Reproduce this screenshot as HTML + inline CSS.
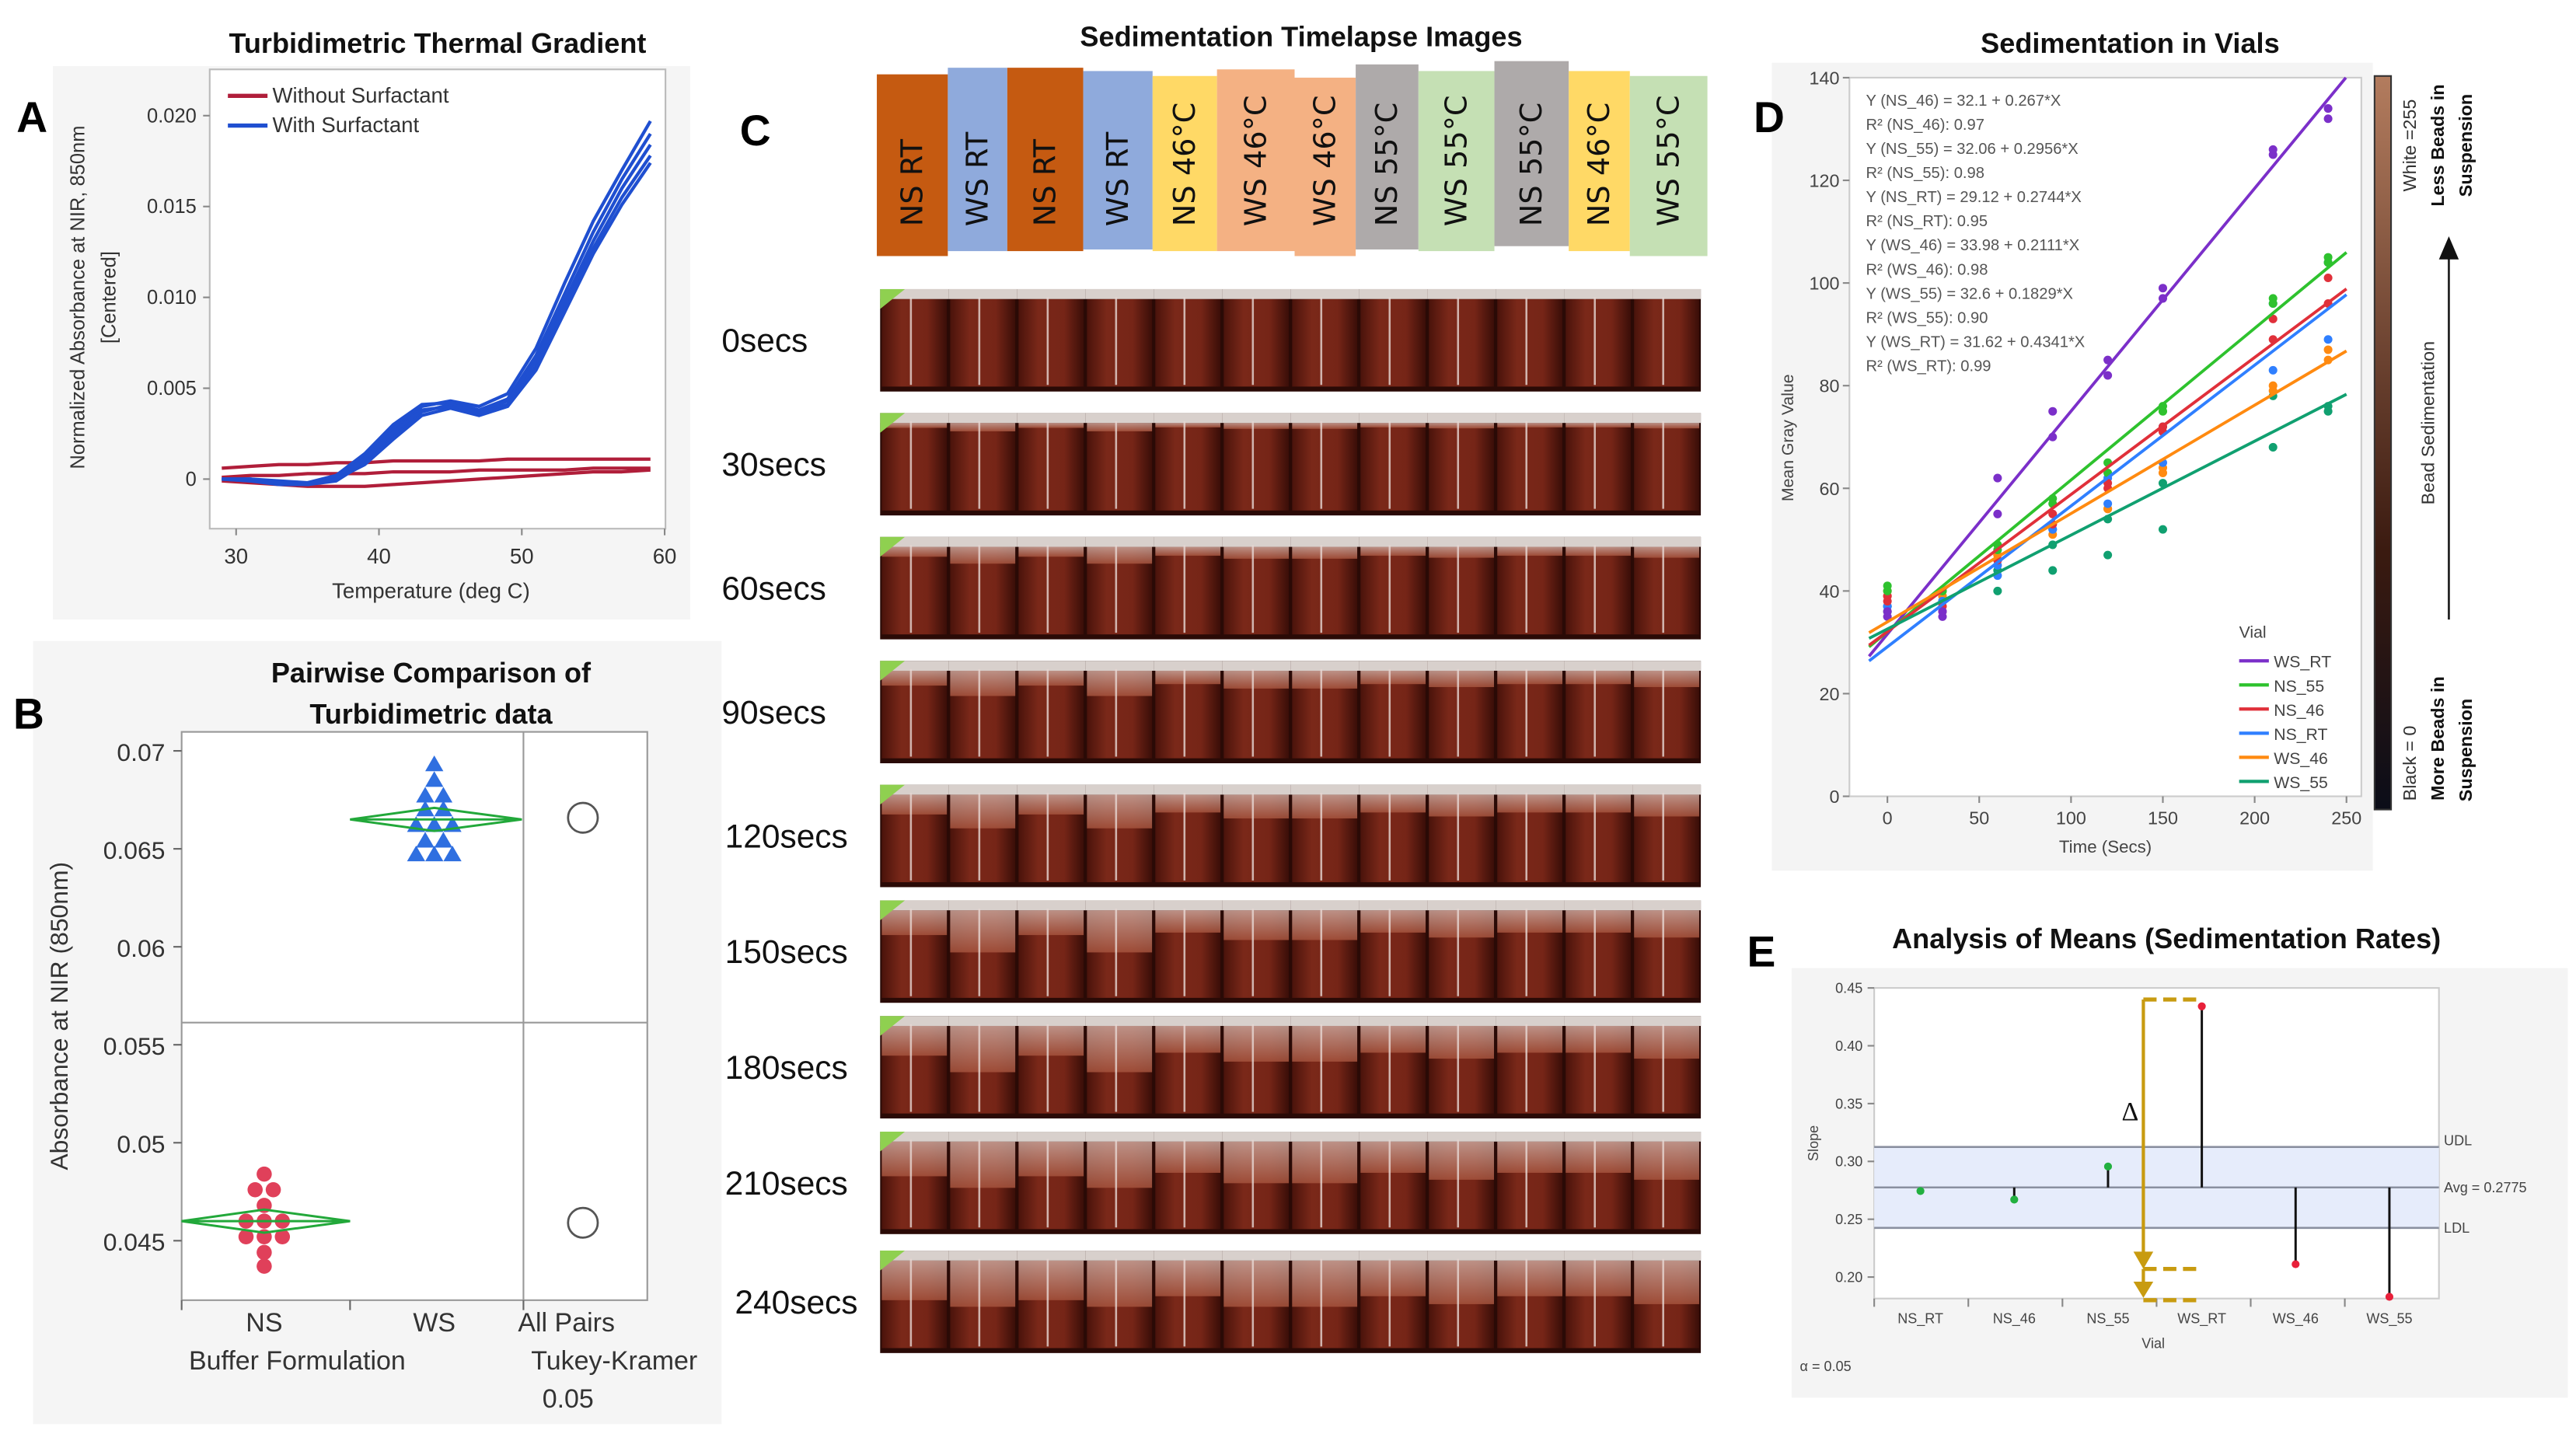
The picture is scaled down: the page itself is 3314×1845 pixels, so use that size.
<!DOCTYPE html>
<html><head><meta charset="utf-8">
<style>
html,body{margin:0;padding:0;background:#fff;}
svg{display:block;font-family:"Liberation Sans",Arial,sans-serif;}
</style></head>
<body>
<svg id="root" width="3314" height="1845" viewBox="0 0 1560 868" preserveAspectRatio="none" xmlns="http://www.w3.org/2000/svg">
<defs>
<linearGradient id="cbar" x1="0" y1="1" x2="0" y2="0"><stop offset="0" stop-color="#0b0d18"/><stop offset="0.35" stop-color="#3a1a10"/><stop offset="1" stop-color="#b37c5e"/></linearGradient>
<linearGradient id="vialG" x1="0" y1="0" x2="1" y2="0"><stop offset="0" stop-color="#4a130b"/><stop offset="0.3" stop-color="#7a2819"/><stop offset="0.7" stop-color="#762517"/><stop offset="1" stop-color="#3a0e08"/></linearGradient>
<linearGradient id="clearG" x1="0" y1="0" x2="0" y2="1"><stop offset="0" stop-color="#c9a49a"/><stop offset="1" stop-color="#a4523c"/></linearGradient>
</defs>
<g id="panelA"></g>
<g id="panelB"></g>
<g id="panelC"></g>
<g id="panelD"></g>
<g id="panelE"></g>
</svg>
<script>
// ---------- Panel A data ----------
const aTemps = [29,31,33,35,37,39,41,43,45,47,49,51,53,55,57,59];
const aBlue1 = [0,0,-0.0002,-0.0003,0,0.0012,0.0028,0.0040,0.0043,0.0040,0.0047,0.0072,0.0108,0.0142,0.0170,0.0197];
const aBlue2 = [0,0,-0.0002,-0.0002,0.0002,0.0014,0.0030,0.0041,0.0042,0.0038,0.0044,0.0068,0.0102,0.0136,0.0165,0.0190];
const aBlue3 = [0,-0.0001,-0.0003,-0.0003,-0.0001,0.0009,0.0024,0.0037,0.0041,0.0037,0.0043,0.0065,0.0098,0.0131,0.0160,0.0184];
const aBlue4 = [0,0,-0.0001,-0.0002,0.0001,0.0011,0.0026,0.0038,0.0040,0.0036,0.0041,0.0062,0.0095,0.0127,0.0155,0.0178];
const aBlue5 = [0,-0.0001,-0.0002,-0.0003,0,0.0008,0.0022,0.0035,0.0039,0.0035,0.0040,0.0060,0.0092,0.0124,0.0151,0.0174];
const aRed1 = [0.0006,0.0007,0.0008,0.0008,0.0009,0.0009,0.0010,0.0010,0.0010,0.0010,0.0011,0.0011,0.0011,0.0011,0.0011,0.0011];
const aRed2 = [0.0001,0.0002,0.0002,0.0003,0.0003,0.0003,0.0004,0.0004,0.0004,0.0005,0.0005,0.0005,0.0005,0.0006,0.0006,0.0006];
const aRed3 = [-0.0001,-0.0002,-0.0003,-0.0004,-0.0004,-0.0004,-0.0003,-0.0002,-0.0001,0,0.0001,0.0002,0.0003,0.0004,0.0004,0.0005];
const aYTicks = [0,0.005,0.010,0.015,0.020];
const aYLabels = ["0","0.005","0.010","0.015","0.020"];
const aXTicks = [30,40,50,60];
// ---------- Panel B data ----------
const bNS = [0.0484,0.0476,0.0476,0.0468,0.0460,0.0460,0.0460,0.0452,0.0452,0.0452,0.0444,0.0437];
const bWS = [0.0693,0.0685,0.0677,0.0677,0.0670,0.0670,0.0662,0.0662,0.0662,0.0654,0.0654,0.0647,0.0647,0.0647];
const bNSMean = 0.0460, bWSMean = 0.0665;
const bYTicks = [0.045,0.05,0.055,0.06,0.065,0.07];
const bYLabels = ["0.045","0.05","0.055","0.06","0.065","0.07"];
// ---------- Panel C data ----------
const cLabels = ["NS RT","WS RT","NS RT","WS RT","NS 46°C","WS 46°C","WS 46°C","NS 55°C","WS 55°C","NS 55°C","NS 46°C","WS 55°C"];
const cColors = ["#c55a11","#8faadc","#c55a11","#8faadc","#ffd966","#f4b183","#f4b183","#aeaaaa","#c5e0b4","#aeaaaa","#ffd966","#c5e0b4"];
const cTimes = ["0secs","30secs","60secs","90secs","120secs","150secs","180secs","210secs","240secs"];
const cTimeVals = [0,30,60,90,120,150,180,210,240];
// ---------- Panel D data ----------
const dSeries = ["WS_RT","NS_55","NS_46","NS_RT","WS_46","WS_55"];
const dIntercepts = [31.62,32.06,32.1,29.12,33.98,32.6];
const dSlopes = [0.4341,0.2956,0.267,0.2744,0.2111,0.1829];
const dTimes = [0,30,60,90,120,150,210,240];
const dWS_RT_a = [35,35,55,70,82,97,125,132];
const dWS_RT_b = [36,36,62,75,85,99,126,134];
const dNS_55_a = [40,40,48,57,63,75,96,104];
const dNS_55_b = [41,40,49,58,65,76,97,105];
const dNS_46_a = [38,37,46,55,60,71,89,96];
const dNS_46_b = [39,36,46,53,61,72,93,101];
const dNS_RT_a = [37,38,43,52,57,65,83,89];
const dNS_RT_b = [37,38,45,52,62,72,96,104];
const dWS_46_a = [39,39,47,51,56,63,79,85];
const dWS_46_b = [40,39,47,53,56,64,80,87];
const dWS_55_a = [37,38,40,44,47,52,68,75];
const dWS_55_b = [36,38,44,49,54,61,78,76];
const dYTicks = [0,20,40,60,80,100,120,140];
const dXTicks = [0,50,100,150,200,250];
const dEquations = ["Y (NS_46) = 32.1 + 0.267*X","R² (NS_46): 0.97","Y (NS_55) = 32.06 + 0.2956*X","R² (NS_55): 0.98","Y (NS_RT) = 29.12 + 0.2744*X","R² (NS_RT): 0.95","Y (WS_46) = 33.98 + 0.2111*X","R² (WS_46): 0.98","Y (WS_55) = 32.6 + 0.1829*X","R² (WS_55): 0.90","Y (WS_RT) = 31.62 + 0.4341*X","R² (WS_RT): 0.99"];
// ---------- Panel E data ----------
const eCats = ["NS_RT","NS_46","NS_55","WS_RT","WS_46","WS_55"];
const eVals = [0.2744,0.267,0.2956,0.4341,0.2111,0.1829];
const eAvg = 0.2775, eUDL = 0.3125, eLDL = 0.2425;
const eYTicks = [0.20,0.25,0.30,0.35,0.40,0.45];
const eYLabels = ["0.20","0.25","0.30","0.35","0.40","0.45"];

const NS="http://www.w3.org/2000/svg";
function mk(parent, tag, attrs, text){
  const e=document.createElementNS(NS,tag);
  for(const k in attrs) e.setAttribute(k,attrs[k]);
  if(text!==undefined) e.textContent=text;
  parent.appendChild(e); return e;
}
function line(p,x1,y1,x2,y2,st,w,extra){const e=mk(p,'line',Object.assign({x1,y1,x2,y2,stroke:st,'stroke-width':w||1},extra||{}));return e;}
function txt(p,x,y,s,size,opts){const o=Object.assign({x,y,'font-size':size,fill:'#222'},opts||{});return mk(p,'text',o,s);}

// ================= Panel A =================
(function(){
  const g=document.getElementById('panelA');
  const bg=mk(g,'rect',{x:32,y:40,width:386,height:335,fill:'#f5f5f5'});
  
  
  const t=txt(g,265,32,'Turbidimetric Thermal Gradient',17,{'text-anchor':'middle','font-weight':'bold',fill:'#111'});
  
  
  const L=txt(g,10,80,'A',26,{'font-weight':'bold',fill:'#000'});
  
  
  const X0=127,X1=403,Y0=42,Y1=320;
  const xs=v=>143+(v-30)*8.65;
  const ys=v=>290-v*11000;
  mk(g,'rect',{x:X0,y:Y0,width:X1-X0,height:Y1-Y0,fill:'#fff',stroke:'#bbb'});
  aYTicks.forEach((v,i)=>{line(g,X0-4,ys(v),X0,ys(v),'#888');
    const e=txt(g,X0-8,ys(v)+4,aYLabels[i],12,{'text-anchor':'end',fill:'#333'});
    
    });
  aXTicks.forEach(v=>{line(g,xs(v),Y1,xs(v),Y1+4,'#888');
    const e=txt(g,xs(v),Y1+21,String(v),13,{'text-anchor':'middle',fill:'#333'});
    
    });
  const xl=txt(g,261,362,'Temperature (deg C)',13,{'text-anchor':'middle',fill:'#333'});
  
  
  const yl=txt(g,0,0,'Normalized Absorbance at NIR, 850nm',12,{'text-anchor':'middle',fill:'#333',transform:'translate(51,180) rotate(-90)'});
  
  
  const yl2=txt(g,0,0,'[Centered]',12,{'text-anchor':'middle',fill:'#333',transform:'translate(70,180) rotate(-90)'});
  
  
  function curve(arr,col,name){
    const d=arr.map((v,i)=>(i?'L':'M')+xs(aTemps[i]).toFixed(1)+','+ys(v).toFixed(1)).join(' ');
    const p=mk(g,'path',{d,fill:'none',stroke:col,'stroke-width':2,'stroke-linejoin':'round'});
    
    
  }
  [aRed1,aRed2,aRed3].forEach(a=>curve(a,'#b01e3a','without-surfactant-curve'));
  [aBlue1,aBlue2,aBlue3,aBlue4,aBlue5].forEach(a=>curve(a,'#1f4fd0','with-surfactant-curve'));
  line(g,138,58,162,58,'#b01e3a',2.5);
  const l1=txt(g,165,62,'Without Surfactant',13,{fill:'#333'});
  
  
  line(g,138,76,162,76,'#1f4fd0',2.5);
  const l2=txt(g,165,80,'With Surfactant',13,{fill:'#333'});
  
  
})();

// ================= Panel B =================
(function(){
  const g=document.getElementById('panelB');
  const bg=mk(g,'rect',{x:20,y:388,width:417,height:474,fill:'#f5f5f5'});
  
  
  const t1=txt(g,261,413,'Pairwise Comparison of',17,{'text-anchor':'middle','font-weight':'bold',fill:'#111'});
  
  
  const t2=txt(g,261,438,'Turbidimetric data',17,{'text-anchor':'middle','font-weight':'bold',fill:'#111'});
  
  
  const L=txt(g,8,441,'B',26,{'font-weight':'bold',fill:'#000'});
  
  
  const X0=110,X1=392,Y0=443,Y1=787;
  const ys=v=>751-(v-0.045)*11860;
  mk(g,'rect',{x:X0,y:Y0,width:X1-X0,height:Y1-Y0,fill:'#fff',stroke:'#999'});
  line(g,317,Y0,317,Y1,'#999');
  line(g,X0,619,X1,619,'#999');
  bYTicks.forEach((v,i)=>{line(g,X0-5,ys(v),X0,ys(v),'#666');
    const e=txt(g,X0-10,ys(v)+6,bYLabels[i],15,{'text-anchor':'end',fill:'#333'});
    
    });
  [110,212,317].forEach(x=>line(g,x,Y1,x,Y1+6,'#666'));
  const yl=txt(g,0,0,'Absorbance at NIR (850nm)',15,{'text-anchor':'middle',fill:'#333',transform:'translate(41,615) rotate(-90)'});
  
  
  [['NS',160,806,'b-x-label-ns'],['WS',263,806,'b-x-label-ws'],['All Pairs',343,806,'all-pairs-label'],['Buffer Formulation',180,829,'b-x-axis-title'],['Tukey-Kramer',372,829,'tukey-kramer-label'],['0.05',344,852,'alpha-label']].forEach(a=>{
    const e=txt(g,a[1],a[2],a[0],16,{'text-anchor':'middle',fill:'#333'});
    
    });
  function diamond(cx,x0,x1,m,name){
    const h=7;
    const p=mk(g,'path',{d:`M${x0},${ys(m)} L${cx},${ys(m)-h} L${x1},${ys(m)} L${cx},${ys(m)+h} Z M${x0},${ys(m)} L${x1},${ys(m)}`,fill:'none',stroke:'#22a83a','stroke-width':1.4});
    
    
  }
  function spread(vals,cx,drawFn){
    const groups={};vals.forEach(v=>{groups[v]=(groups[v]||0)+1;});
    const seen={};
    vals.forEach(v=>{const n=groups[v];seen[v]=(seen[v]||0);const k=seen[v]++;
      const x=cx+(k-(n-1)/2)*11;drawFn(x,ys(v));});
  }
  spread(bNS,160,(x,y)=>{const c=mk(g,'circle',{cx:x,cy:y,r:4.6,fill:'#e0405a'});
    
    });
  spread(bWS,263,(x,y)=>{const p=mk(g,'path',{d:`M${x},${y-5.5} L${x+5.5},${y+4} L${x-5.5},${y+4} Z`,fill:'#2f6fe0'});
    
    });
  diamond(160,110,212,bNSMean,'ns-means-diamond');
  diamond(263,212,316,bWSMean,'ws-means-diamond');
  const c1=mk(g,'circle',{cx:353,cy:ys(bWSMean)-1,r:9,fill:'none',stroke:'#555','stroke-width':1.3});
  
  
  const c2=mk(g,'circle',{cx:353,cy:ys(bNSMean)+1,r:9,fill:'none',stroke:'#555','stroke-width':1.3});
  
  
})();

// ================= Panel C =================
(function(){
  const g=document.getElementById('panelC');
  const t=txt(g,788,28,'Sedimentation Timelapse Images',17,{'text-anchor':'middle','font-weight':'bold',fill:'#111'});
  
  
  const L=txt(g,448,88,'C',26,{'font-weight':'bold',fill:'#000'});
  
  
  const edges=[531,574,610,656,698,737,784,821,859,905,950,987,1034];
  const tops=[45,41,41,43,46,42,47,39,43,37,43,46];
  const bots=[155,152,152,151,152,152,155,151,152,149,152,155];
  cLabels.forEach((lab,i)=>{
    const r=mk(g,'rect',{x:edges[i],y:tops[i],width:edges[i+1]-edges[i],height:bots[i]-tops[i],fill:cColors[i]});
    
    
    const cx=(edges[i]+edges[i+1])/2+6;
    const e=txt(g,0,0,lab,18,{fill:'#111','text-anchor':'start',transform:`translate(${cx},137) rotate(-90)`,'font-family':'"DejaVu Sans","Liberation Sans",sans-serif'});
    
    
  });
  const rowTops=[175,250,325,400,475,545,615,685,757];
  const rowH=62;
  const rate=[0.10,0.17,0.10,0.17,0.09,0.12,0.12,0.09,0.11,0.09,0.09,0.11];
  cTimes.forEach((lab,r)=>{
    const e=txt(g,437+(r>=4?2:0)+(r==8?6:0),rowTops[r]+rowH/2+7,lab,20,{fill:'#111'});
    
    
    const y0=rowTops[r];
    const row=mk(g,'g',{});
    
    
    mk(row,'rect',{x:533,y:y0,width:497,height:rowH,fill:'#2a0a06'});
    const vw=497/12;
    for(let i=0;i<12;i++){
      const x=533+i*vw;
      mk(row,'rect',{x:x+1,y:y0+6,width:vw-2,height:rowH-9,fill:'url(#vialG)'});
      const ch=Math.min(cTimeVals[r]*rate[i],28);
      if(ch>0){mk(row,'rect',{x:x+1,y:y0+6,width:vw-2,height:ch,fill:'url(#clearG)',opacity:0.85});}
      mk(row,'rect',{x:x,y:y0,width:vw,height:6,fill:'#d8d0cc'});
      line(row,x+vw*0.45,y0+5,x+vw*0.45,y0+rowH-4,'#e8d8d4',1.2,{opacity:0.8});
    }
    mk(row,'path',{d:`M533,${y0} L548,${y0} L533,${y0+12} Z`,fill:'#8fd050'});
  });
})();

// ================= Panel D =================
(function(){
  const g=document.getElementById('panelD');
  const bg=mk(g,'rect',{x:1073,y:38,width:364,height:489,fill:'#f4f4f4'});
  
  
  const t=txt(g,1290,32,'Sedimentation in Vials',17,{'text-anchor':'middle','font-weight':'bold',fill:'#111'});
  
  
  const L=txt(g,1062,80,'D',26,{'font-weight':'bold',fill:'#000'});
  
  
  const X0=1120,X1=1430,Y0=47,Y1=482;
  const xs=v=>1143+v*1.112, ys=v=>482-v*3.107;
  mk(g,'rect',{x:X0,y:Y0,width:X1-X0,height:Y1-Y0,fill:'#fff',stroke:'#ccc'});
  dYTicks.forEach(v=>{line(g,X0-4,ys(v),X0,ys(v),'#888');
    const e=txt(g,X0-6,ys(v)+4,String(v),11,{'text-anchor':'end',fill:'#444'});
    
    });
  dXTicks.forEach(v=>{line(g,xs(v),Y1,xs(v),Y1+4,'#888');
    const e=txt(g,xs(v),Y1+17,String(v),11,{'text-anchor':'middle',fill:'#444'});
    
    });
  const xl=txt(g,1275,516,'Time (Secs)',10.5,{'text-anchor':'middle',fill:'#444'});
  
  
  const yl=txt(g,0,0,'Mean Gray Value',10,{'text-anchor':'middle',fill:'#444',transform:'translate(1086,265) rotate(-90)'});
  
  
  const cols=['#7b2fc9','#2ec22e','#e0303a','#2f7fff','#ff8a10','#10a070'];
  const pts=[[dWS_RT_a,dWS_RT_b],[dNS_55_a,dNS_55_b],[dNS_46_a,dNS_46_b],[dNS_RT_a,dNS_RT_b],[dWS_46_a,dWS_46_b],[dWS_55_a,dWS_55_b]];
  for(let s=5;s>=0;s--){
    pts[s].forEach(arr=>arr.forEach((v,i)=>{
      const c=mk(g,'circle',{cx:xs(dTimes[i]),cy:ys(v),r:2.6,fill:cols[s]});
      
      }));
  }
  dSeries.forEach((s,i)=>{
    const xa=-10, xb=Math.min(250,(140-dIntercepts[i])/dSlopes[i]);
    const l=line(g,xs(xa),ys(dIntercepts[i]+dSlopes[i]*xa),xs(xb),ys(dIntercepts[i]+dSlopes[i]*xb),cols[i],1.8);
    
    
  });
  dEquations.forEach((s,i)=>{
    const e=txt(g,1130,64+i*14.6,s,9.5,{fill:'#555'});
    
    });
  const vt=txt(g,1356,386,'Vial',10,{fill:'#444'});
  
  
  dSeries.forEach((s,i)=>{
    const y=400+i*14.6;
    line(g,1356,y,1374,y,cols[i],2);
    const e=txt(g,1377,y+4,s,10,{fill:'#444'});
    
    });
  const cb=mk(g,'rect',{x:1438,y:46,width:10,height:444,fill:'url(#cbar)',stroke:'#333','stroke-width':1});
  
  
  [['White =255',1463,88,11,'normal','#333'],['Less Beads in',1480,88,11,'bold','#111'],['Suspension',1497,88,11,'bold','#111'],['Bead Sedimentation',1474,256,11,'normal','#333'],['Black = 0',1463,462,11,'normal','#333'],['More Beads in',1480,447,11,'bold','#111'],['Suspension',1497,454,11,'bold','#111']].forEach(a=>{
    const e=txt(g,0,0,a[0],a[3],{'text-anchor':'middle','font-weight':a[4],fill:a[5],transform:`translate(${a[1]},${a[2]}) rotate(-90)`});
    
    });
  line(g,1483,155,1483,375,'#222',1.3);
  mk(g,'path',{d:'M1477,157 L1489,157 L1483,143 Z',fill:'#111'});
})();

// ================= Panel E =================
(function(){
  const g=document.getElementById('panelE');
  const bg=mk(g,'rect',{x:1085,y:586,width:470,height:260,fill:'#f4f4f4'});
  
  
  const t=txt(g,1312,574,'Analysis of Means (Sedimentation Rates)',17,{'text-anchor':'middle','font-weight':'bold',fill:'#111'});
  
  
  const L=txt(g,1058,585,'E',26,{'font-weight':'bold',fill:'#000'});
  
  
  const X0=1135,X1=1477,Y0=598,Y1=786;
  const ys=v=>598+(0.45-v)*700;
  const xs=i=>1163+i*56.8;
  mk(g,'rect',{x:X0,y:Y0,width:X1-X0,height:Y1-Y0,fill:'#fff',stroke:'#ccc'});
  const band=mk(g,'rect',{x:X0,y:ys(eUDL),width:X1-X0,height:ys(eLDL)-ys(eUDL),fill:'#e6ecfb'});
  
  
  line(g,X0,ys(eUDL),X1,ys(eUDL),'#8a90a0',1.2);
  line(g,X0,ys(eAvg),X1,ys(eAvg),'#8a90a0',1.2);
  line(g,X0,ys(eLDL),X1,ys(eLDL),'#8a90a0',1.2);
  [['UDL',ys(eUDL)-1],['Avg = 0.2775',ys(eAvg)+3],['LDL',ys(eLDL)+3]].forEach(a=>{
    const e=txt(g,1480,a[1],a[0],8.5,{fill:'#444'});
    
    });
  eYTicks.forEach((v,i)=>{line(g,X0-4,ys(v),X0,ys(v),'#888');
    const e=txt(g,X0-7,ys(v)+3,eYLabels[i],8.5,{'text-anchor':'end',fill:'#444'});
    
    });
  const yl=txt(g,0,0,'Slope',8.5,{'text-anchor':'middle',fill:'#444',transform:'translate(1101,692) rotate(-90)'});
  
  
  eCats.forEach((c,i)=>{
    line(g,X0+i*57,Y1,X0+i*57,Y1+5,'#888');
    const e=txt(g,xs(i),801,c,8.5,{'text-anchor':'middle',fill:'#444'});
    
    
    const v=eVals[i];
    const out=v>eUDL||v<eLDL;
    const l=line(g,xs(i),ys(eAvg),xs(i),ys(v),'#111',1.4);
    
    
    const p=mk(g,'circle',{cx:xs(i),cy:ys(v),r:2.4,fill:out?'#e8203a':'#22b040'});
    
    
  });
  const xl=txt(g,1304,816,'Vial',8.5,{'text-anchor':'middle',fill:'#444'});
  
  
  const al=txt(g,1090,830,'α = 0.05',8.5,{fill:'#444'});
  
  
  const gold='#c89b10', ax=1298;
  line(g,ax,ys(0.44),ax,ys(0.21),gold,2);
  line(g,ax,ys(0.44),ax+33,ys(0.44),gold,2.5,{'stroke-dasharray':'8,4'});
  line(g,ax,ys(0.207),ax+33,ys(0.207),gold,2.5,{'stroke-dasharray':'8,4'});
  line(g,ax,ys(0.180),ax+33,ys(0.180),gold,2.5,{'stroke-dasharray':'8,4'});
  mk(g,'path',{d:`M${ax-6},${ys(0.222)} L${ax+6},${ys(0.222)} L${ax},${ys(0.207)} Z`,fill:gold});
  line(g,ax,ys(0.207),ax,ys(0.19),gold,2);
  mk(g,'path',{d:`M${ax-6},${ys(0.196)} L${ax+6},${ys(0.196)} L${ax},${ys(0.182)} Z`,fill:gold});
  const d=txt(g,1290,678,'Δ',16,{'text-anchor':'middle',fill:'#111','font-family':'"Liberation Serif",serif'});
  
  
})();
</script>
</body></html>
